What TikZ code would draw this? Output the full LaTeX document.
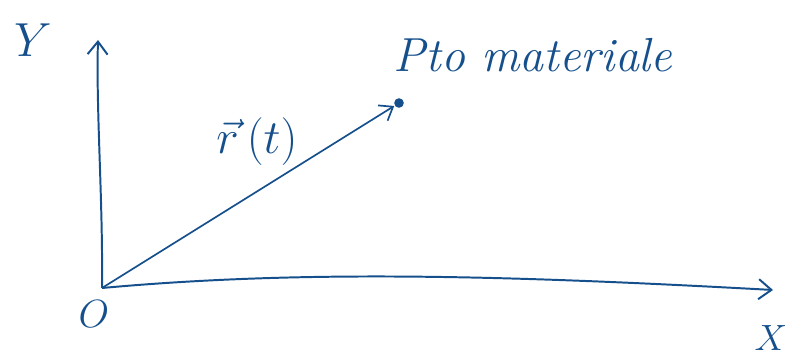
\RequirePackage{fix-cm}
\documentclass[tikz,border=0pt]{standalone}
\usepackage{tikz}
\usetikzlibrary{arrows.meta}
\definecolor{ink}{RGB}{22,80,140}

\begin{document}
\begin{tikzpicture}[
  x=0.025cm, y=-0.025cm,
  line width=1.2pt, draw=ink, text=ink,
  axis/.style={draw=ink, line width=1.4pt, -{Straight Barb[length=3.2mm,width=5mm]}},
  vec/.style={draw=ink, line width=1.2pt, -{Straight Barb[length=3mm,width=4.5mm]}},
  lab/.style={font=\fontsize{34}{38}\selectfont\itshape, text=ink, inner sep=0pt},
  pt/.style={circle, fill=ink, inner sep=0pt, minimum size=2.4mm},
]
\useasboundingbox (0,0) rectangle (786,359);
\coordinate (O) at (102,288);
\coordinate (ytip) at (98,40);
\coordinate (xtip) at (773,290);
\node[pt] (P) at (399,103) {};
% axes
\draw[axis] (O) .. controls (103,200) and (96,110) .. (ytip);
\draw[axis] (O) .. controls (300,270) and (500,275) .. (xtip);
% position vector
\draw[vec] (O) -- (P);
% labels
\node[lab] (ylab) at (33,40) {$Y$};
\node[lab, font=\fontsize{26}{30}\selectfont] (xlab) at (771,338) {$X$};
\node[lab, font=\fontsize{28}{32}\selectfont] (olab) at (94,314) {$O$};
\node[lab] (rlab) at (257,142) {$\vec{r}\,(t)$};
\node[lab, anchor=west] (plab) at (393,55) {Pto materiale};
\end{tikzpicture}
\end{document}
